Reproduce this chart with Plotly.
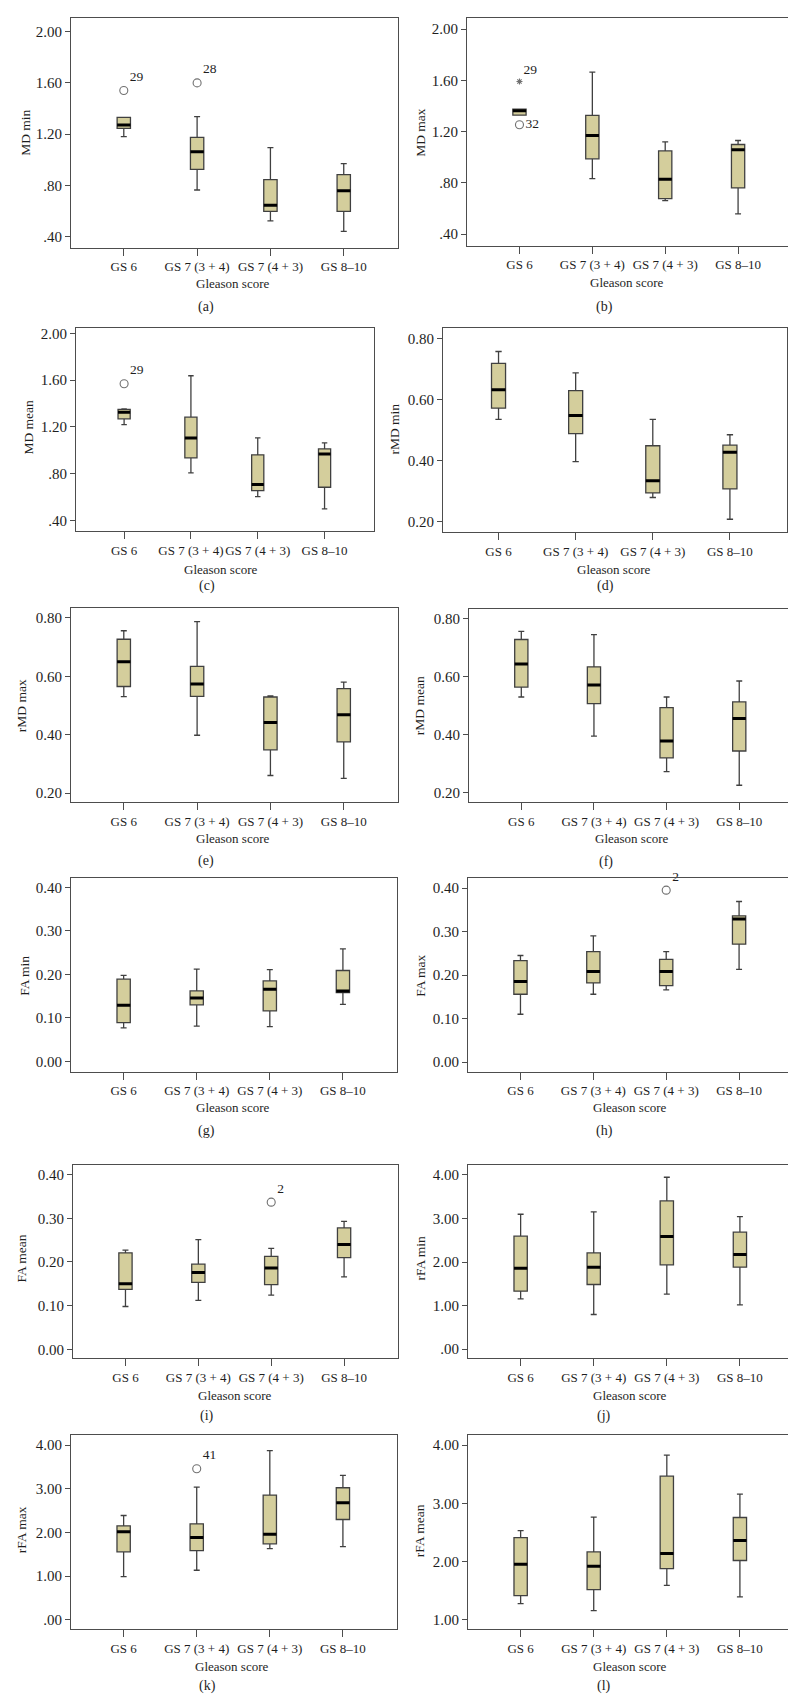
import plotly.graph_objects as go

categories = ["GS 6", "GS 7 (3 + 4)", "GS 7 (4 + 3)", "GS 8–10"]

# ---------------- data (box statistics) ----------------
# (a) MD min
md_min_lower = [1.18, 0.763, 0.521, 0.44]
md_min_q1 = [1.245, 0.924, 0.596, 0.596]
md_min_median = [1.27, 1.062, 0.643, 0.758]
md_min_q3 = [1.33, 1.174, 0.844, 0.883]
md_min_upper = [1.33, 1.336, 1.094, 0.969]
md_min_out_cat = ["GS 6", "GS 7 (3 + 4)"]
md_min_out_val = [1.54, 1.60]
md_min_out_lab = ["29", "28"]
md_min_out_sym = ["circle-open", "circle-open"]

# (b) MD max
md_max_lower = [1.328, 0.833, 0.661, 0.557]
md_max_q1 = [1.328, 0.987, 0.677, 0.76]
md_max_median = [1.362, 1.169, 0.828, 1.057]
md_max_q3 = [1.375, 1.326, 1.049, 1.099]
md_max_upper = [1.375, 1.664, 1.12, 1.13]
md_max_out_cat = ["GS 6", "GS 6"]
md_max_out_val = [1.253, 1.59]
md_max_out_lab = ["32", "29"]
md_max_out_sym = ["circle-open", "asterisk-open"]

# (c) MD mean
md_mean_lower = [1.221, 0.808, 0.605, 0.50]
md_mean_q1 = [1.27, 0.936, 0.657, 0.685]
md_mean_median = [1.327, 1.107, 0.708, 0.970]
md_mean_q3 = [1.35, 1.284, 0.962, 1.013]
md_mean_upper = [1.355, 1.638, 1.107, 1.064]
md_mean_out_cat = ["GS 6"]
md_mean_out_val = [1.569]
md_mean_out_lab = ["29"]
md_mean_out_sym = ["circle-open"]

# (d) rMD min
rmd_min_lower = [0.535, 0.397, 0.28, 0.209]
rmd_min_q1 = [0.572, 0.489, 0.295, 0.308]
rmd_min_median = [0.632, 0.548, 0.335, 0.428]
rmd_min_q3 = [0.718, 0.629, 0.449, 0.451]
rmd_min_upper = [0.757, 0.687, 0.535, 0.485]

# (e) rMD max
rmd_max_lower = [0.53, 0.398, 0.26, 0.25]
rmd_max_q1 = [0.565, 0.531, 0.348, 0.375]
rmd_max_median = [0.65, 0.574, 0.442, 0.468]
rmd_max_q3 = [0.727, 0.634, 0.529, 0.558]
rmd_max_upper = [0.756, 0.787, 0.533, 0.58]

# (f) rMD mean
rmd_mean_lower = [0.53, 0.395, 0.273, 0.226]
rmd_mean_q1 = [0.564, 0.507, 0.32, 0.344]
rmd_mean_median = [0.644, 0.571, 0.378, 0.456]
rmd_mean_q3 = [0.728, 0.634, 0.493, 0.513]
rmd_mean_upper = [0.756, 0.745, 0.53, 0.585]

# (g) FA min
fa_min_lower = [0.077, 0.081, 0.08, 0.131]
fa_min_q1 = [0.089, 0.13, 0.116, 0.158]
fa_min_median = [0.129, 0.146, 0.166, 0.162]
fa_min_q3 = [0.189, 0.162, 0.185, 0.209]
fa_min_upper = [0.198, 0.212, 0.211, 0.259]

# (h) FA max
fa_max_lower = [0.11, 0.156, 0.166, 0.213]
fa_max_q1 = [0.156, 0.182, 0.176, 0.271]
fa_max_median = [0.185, 0.208, 0.208, 0.329]
fa_max_q3 = [0.233, 0.254, 0.236, 0.336]
fa_max_upper = [0.245, 0.29, 0.254, 0.369]
fa_max_out_cat = ["GS 7 (4 + 3)"]
fa_max_out_val = [0.395]
fa_max_out_lab = ["2"]
fa_max_out_sym = ["circle-open"]

# (i) FA mean
fa_mean_lower = [0.098, 0.112, 0.124, 0.166]
fa_mean_q1 = [0.137, 0.153, 0.148, 0.21]
fa_mean_median = [0.15, 0.176, 0.186, 0.24]
fa_mean_q3 = [0.221, 0.195, 0.213, 0.278]
fa_mean_upper = [0.227, 0.251, 0.231, 0.293]
fa_mean_out_cat = ["GS 7 (4 + 3)"]
fa_mean_out_val = [0.337]
fa_mean_out_lab = ["2"]
fa_mean_out_sym = ["circle-open"]

# (j) rFA min
rfa_min_lower = [1.155, 0.795, 1.262, 1.017]
rfa_min_q1 = [1.331, 1.484, 1.935, 1.881]
rfa_min_median = [1.859, 1.881, 2.585, 2.172]
rfa_min_q3 = [2.593, 2.21, 3.403, 2.685]
rfa_min_upper = [3.097, 3.151, 3.946, 3.044]

# (k) rFA max
rfa_max_lower = [0.987, 1.132, 1.629, 1.675]
rfa_max_q1 = [1.553, 1.583, 1.736, 2.294]
rfa_max_median = [2.011, 1.881, 1.958, 2.677]
rfa_max_q3 = [2.149, 2.195, 2.853, 3.021]
rfa_max_upper = [2.386, 3.036, 3.87, 3.304]
rfa_max_out_cat = ["GS 7 (3 + 4)"]
rfa_max_out_val = [3.457]
rfa_max_out_lab = ["41"]
rfa_max_out_sym = ["circle-open"]

# (l) rFA mean
rfa_mean_lower = [1.275, 1.155, 1.589, 1.39]
rfa_mean_q1 = [1.413, 1.516, 1.876, 2.017]
rfa_mean_median = [1.952, 1.917, 2.135, 2.36]
rfa_mean_q3 = [2.411, 2.164, 3.466, 2.755]
rfa_mean_upper = [2.531, 2.761, 3.828, 3.157]

# tick labels
ticks_md = [0.4, 0.8, 1.2, 1.6, 2.0]
ticktext_md = [".40", ".80", "1.20", "1.60", "2.00"]
ticks_rmd = [0.2, 0.4, 0.6, 0.8]
ticktext_rmd = ["0.20", "0.40", "0.60", "0.80"]
ticks_fa = [0.0, 0.1, 0.2, 0.3, 0.4]
ticktext_fa = ["0.00", "0.10", "0.20", "0.30", "0.40"]
ticks_rfa = [0, 1, 2, 3, 4]
ticktext_rfa = [".00", "1.00", "2.00", "3.00", "4.00"]
ticks_rfa_mean = [1, 2, 3, 4]
ticktext_rfa_mean = ["1.00", "2.00", "3.00", "4.00"]

y_titles = ["MD min", "MD max", "MD mean", "rMD min", "rMD max", "rMD mean",
            "FA min", "FA max", "FA mean", "rFA min", "rFA max", "rFA mean"]
panel_letters = ["(a)", "(b)", "(c)", "(d)", "(e)", "(f)",
                 "(g)", "(h)", "(i)", "(j)", "(k)", "(l)"]
x_title = "Gleason score"

# ---------------- assemble panels ----------------
empty = dict(cat=[], val=[], lab=[], sym=[])
panels = [
    dict(stats=(md_min_lower, md_min_q1, md_min_median, md_min_q3, md_min_upper),
         out=dict(cat=md_min_out_cat, val=md_min_out_val, lab=md_min_out_lab, sym=md_min_out_sym),
         tv=ticks_md, tt=ticktext_md),
    dict(stats=(md_max_lower, md_max_q1, md_max_median, md_max_q3, md_max_upper),
         out=dict(cat=md_max_out_cat, val=md_max_out_val, lab=md_max_out_lab, sym=md_max_out_sym),
         tv=ticks_md, tt=ticktext_md),
    dict(stats=(md_mean_lower, md_mean_q1, md_mean_median, md_mean_q3, md_mean_upper),
         out=dict(cat=md_mean_out_cat, val=md_mean_out_val, lab=md_mean_out_lab, sym=md_mean_out_sym),
         tv=ticks_md, tt=ticktext_md),
    dict(stats=(rmd_min_lower, rmd_min_q1, rmd_min_median, rmd_min_q3, rmd_min_upper),
         out=empty, tv=ticks_rmd, tt=ticktext_rmd),
    dict(stats=(rmd_max_lower, rmd_max_q1, rmd_max_median, rmd_max_q3, rmd_max_upper),
         out=empty, tv=ticks_rmd, tt=ticktext_rmd),
    dict(stats=(rmd_mean_lower, rmd_mean_q1, rmd_mean_median, rmd_mean_q3, rmd_mean_upper),
         out=empty, tv=ticks_rmd, tt=ticktext_rmd),
    dict(stats=(fa_min_lower, fa_min_q1, fa_min_median, fa_min_q3, fa_min_upper),
         out=empty, tv=ticks_fa, tt=ticktext_fa),
    dict(stats=(fa_max_lower, fa_max_q1, fa_max_median, fa_max_q3, fa_max_upper),
         out=dict(cat=fa_max_out_cat, val=fa_max_out_val, lab=fa_max_out_lab, sym=fa_max_out_sym),
         tv=ticks_fa, tt=ticktext_fa),
    dict(stats=(fa_mean_lower, fa_mean_q1, fa_mean_median, fa_mean_q3, fa_mean_upper),
         out=dict(cat=fa_mean_out_cat, val=fa_mean_out_val, lab=fa_mean_out_lab, sym=fa_mean_out_sym),
         tv=ticks_fa, tt=ticktext_fa),
    dict(stats=(rfa_min_lower, rfa_min_q1, rfa_min_median, rfa_min_q3, rfa_min_upper),
         out=empty, tv=ticks_rfa, tt=ticktext_rfa),
    dict(stats=(rfa_max_lower, rfa_max_q1, rfa_max_median, rfa_max_q3, rfa_max_upper),
         out=dict(cat=rfa_max_out_cat, val=rfa_max_out_val, lab=rfa_max_out_lab, sym=rfa_max_out_sym),
         tv=ticks_rfa, tt=ticktext_rfa),
    dict(stats=(rfa_mean_lower, rfa_mean_q1, rfa_mean_median, rfa_mean_q3, rfa_mean_upper),
         out=empty, tv=ticks_rfa_mean, tt=ticktext_rfa_mean),
]

# ---------------- geometry / style (pixels) ----------------
W, H = 796, 1706
FONT = "Liberation Serif"
TXT = "#1e1e1e"
AX = "#4d4d4d"
BOX_FILL = "#D4CE9C"
BOX_LINE = "#404040"

# plot frames: x0, x1, y0(top), y1(bottom)
frames = [
    (63, 390, 8, 238), (459, 784, 8, 236),
    (68, 366, 318, 522), (435, 779, 318, 523),
    (63, 390, 599, 793), (461, 785, 600, 793),
    (63, 389, 869, 1063), (460, 785, 869, 1063),
    (65, 390, 1156, 1350), (460, 786, 1156, 1350),
    (63, 389, 1427, 1621), (460, 786, 1427, 1621),
]
y_ranges = [
    (0.312, 2.107), (0.309, 2.086), (0.308, 2.049), (0.166, 0.835),
    (0.169, 0.833), (0.168, 0.832), (-0.024, 0.422), (-0.022, 0.423),
    (-0.021, 0.423), (-0.213, 4.236), (-0.216, 4.222), (0.838, 4.167),
]
ytitle_pos = [(18, 123), (413, 123), (21, 418), (387, 420), (13, 697), (411, 697),
              (17, 967), (413, 967), (14, 1250), (413, 1250), (13, 1522), (411, 1523)]
xtitle_pos = [(225, 274), (619, 273), (213, 560), (606, 560), (225, 829), (624, 829),
              (225, 1099), (622, 1099), (227, 1387), (622, 1387), (224, 1658), (622, 1658)]
letter_pos = [(198, 297), (596, 297), (199, 577), (597, 577), (198, 852), (598, 853),
              (198, 1122), (596, 1122), (199, 1408), (596, 1408), (199, 1678), (596, 1678)]
X_RANGE = [-0.72, 3.74]

fig = go.Figure()
layout = dict(
    width=W, height=H, margin=dict(l=0, r=0, t=0, b=0),
    paper_bgcolor="white", plot_bgcolor="white",
    showlegend=False, boxgap=0.74, boxmode="overlay",
    font=dict(family=FONT, color=TXT, size=13),
)
annotations = []

for i, p in enumerate(panels):
    n = i + 1
    suf = "" if n == 1 else str(n)
    xa, ya = "x" + suf, "y" + suf
    lo, q1, md, q3, up = p["stats"]
    fig.add_trace(go.Box(
        x=categories, lowerfence=lo, q1=q1, median=md, q3=q3, upperfence=up,
        xaxis=xa, yaxis=ya, fillcolor=BOX_FILL,
        line=dict(color=BOX_LINE, width=1.3), whiskerwidth=0.45,
        boxpoints=False, hoverinfo="skip"))
    # thick black median bar
    fig.add_trace(go.Box(
        x=categories, lowerfence=md, q1=md, median=md, q3=md, upperfence=md,
        xaxis=xa, yaxis=ya, fillcolor="rgba(0,0,0,0)",
        line=dict(color="black", width=3), whiskerwidth=0,
        boxpoints=False, hoverinfo="skip"))
    o = p["out"]
    if o["cat"]:
        fig.add_trace(go.Scatter(
            x=o["cat"], y=o["val"], text=o["lab"], mode="markers+text",
            textposition=["middle right" if l == "32" else "top right" for l in o["lab"]],
            textfont=dict(family=FONT, size=13.5, color=TXT),
            marker=dict(symbol=o["sym"],
                        size=[5 if s.startswith("asterisk") else 8 for s in o["sym"]],
                        color="#333333", line=dict(width=1.1, color="#333333")),
            xaxis=xa, yaxis=ya, hoverinfo="skip", cliponaxis=False))

    x0, x1, y0, y1 = frames[i]
    layout["xaxis" + suf] = dict(
        domain=[x0 / W, x1 / W], anchor=ya, type="category",
        categoryorder="array", categoryarray=categories, range=X_RANGE,
        showline=True, mirror=True, linecolor=AX, linewidth=1,
        ticks="outside", ticklen=7, tickcolor=AX, tickwidth=1, tickangle=0,
        tickfont=dict(family=FONT, size=13, color=TXT),
        showgrid=False, zeroline=False, fixedrange=True)
    layout["yaxis" + suf] = dict(
        domain=[1 - y1 / H, 1 - y0 / H], anchor=xa, range=list(y_ranges[i]),
        tickvals=p["tv"], ticktext=p["tt"],
        showline=True, mirror=True, linecolor=AX, linewidth=1,
        ticks="outside", ticklen=5, tickcolor=AX, tickwidth=1,
        tickfont=dict(family=FONT, size=15, color=TXT),
        showgrid=False, zeroline=False, fixedrange=True)

    tx, ty = ytitle_pos[i]
    annotations.append(dict(text=y_titles[i], x=tx / W, y=1 - ty / H, xref="paper", yref="paper",
                            showarrow=False, textangle=-90, xanchor="center", yanchor="middle",
                            font=dict(family=FONT, size=13.5, color=TXT)))
    tx, ty = xtitle_pos[i]
    annotations.append(dict(text=x_title, x=tx / W, y=1 - ty / H, xref="paper", yref="paper",
                            showarrow=False, xanchor="center", yanchor="middle",
                            font=dict(family=FONT, size=13, color=TXT)))
    tx, ty = letter_pos[i]
    annotations.append(dict(text=panel_letters[i], x=tx / W, y=1 - ty / H, xref="paper", yref="paper",
                            showarrow=False, xanchor="center", yanchor="middle",
                            font=dict(family=FONT, size=14, color=TXT)))

layout["annotations"] = annotations
fig.update_layout(**layout)
fig.write_html("out.html")
